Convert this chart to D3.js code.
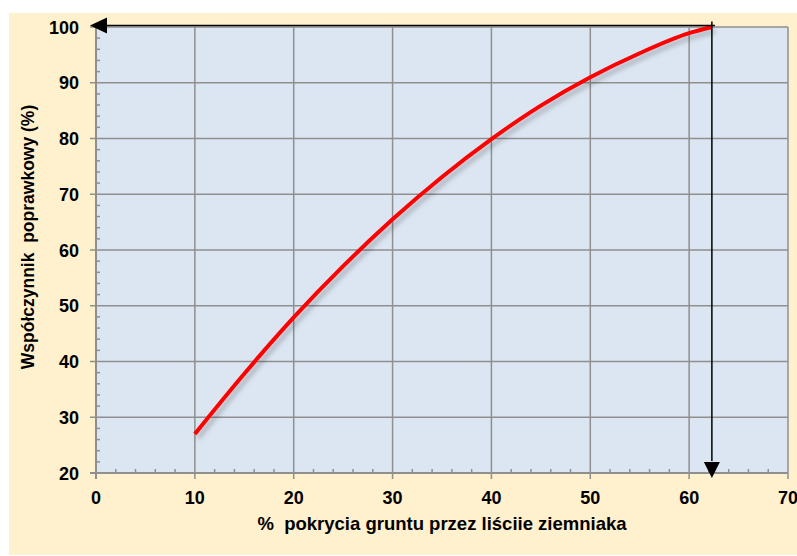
<!DOCTYPE html>
<html><head><meta charset="utf-8">
<script src="https://cdn.jsdelivr.net/npm/d3@7"></script>
<style>body{margin:0;background:#fff}svg{display:block}text{font-family:Arial,"Liberation Sans",sans-serif;font-weight:bold;fill:#000}</style>
</head><body>
<script>
const coverage = [10, 15, 20, 25, 30, 35, 40, 45, 50, 55, 60, 62.3];
const factor   = [27, 37.8, 47.9, 57.1, 65.5, 73.1, 79.9, 85.9, 91, 95.3, 98.9, 100];
const xTicks = [0, 10, 20, 30, 40, 50, 60, 70];
const yTicks = [20, 30, 40, 50, 60, 70, 80, 90, 100];
const readX = 62.3, readY = 100;
const xLabel = "%  pokrycia gruntu przez liściie ziemniaka";
const yLabel = "Współczynnik  poprawkowy (%)";

const W = 797, H = 556;
const svg = d3.select("body").append("svg").attr("width", W).attr("height", H);
const defs = svg.append("defs");
const f = defs.append("filter").attr("id","sh").attr("x","-10%").attr("y","-10%").attr("width","130%").attr("height","130%");
f.append("feDropShadow").attr("dx",3).attr("dy",4).attr("stdDeviation",2.5).attr("flood-color","#000").attr("flood-opacity",0.25);

svg.append("rect").attr("x",9).attr("y",13).attr("width",W-9).attr("height",542).attr("fill","#FFF0CE");

const x = d3.scaleLinear().domain([0,70]).range([96,788]);
const y = d3.scaleLinear().domain([20,100]).range([473,27]);
const grey = "#8f8f8f";

svg.append("rect").attr("x",x(0)).attr("y",y(100)).attr("width",x(70)-x(0)).attr("height",y(20)-y(100)).attr("fill","#DCE6F2");

// minor ticks
const xMinor = d3.range(0,70.01,2).filter(v=>v%10!==0);
const yMinor = d3.range(20,100.01,2).filter(v=>v%10!==0);
svg.append("g").selectAll("line").data(xMinor).join("line")
  .attr("x1",d=>x(d)).attr("x2",d=>x(d)).attr("y1",y(20)).attr("y2",y(20)-4)
  .attr("stroke",grey).attr("stroke-width",1.5);
svg.append("g").selectAll("line").data(yMinor).join("line")
  .attr("y1",d=>y(d)).attr("y2",d=>y(d)).attr("x1",x(0)).attr("x2",x(0)+4)
  .attr("stroke",grey).attr("stroke-width",1.5);

// grid
svg.append("g").selectAll("line").data(xTicks.slice(1)).join("line")
  .attr("x1",d=>x(d)).attr("x2",d=>x(d)).attr("y1",y(100)).attr("y2",y(20)+6)
  .attr("stroke",grey).attr("stroke-width",1.5);
svg.append("g").selectAll("line").data(yTicks.slice(1)).join("line")
  .attr("y1",d=>y(d)).attr("y2",d=>y(d)).attr("x1",x(0)-6).attr("x2",x(70))
  .attr("stroke",grey).attr("stroke-width",1.5);
// axes
svg.append("line").attr("x1",x(0)).attr("x2",x(0)).attr("y1",y(100)).attr("y2",y(20)+6).attr("stroke",grey).attr("stroke-width",2);
svg.append("line").attr("x1",x(0)-6).attr("x2",x(70)).attr("y1",y(20)).attr("y2",y(20)).attr("stroke",grey).attr("stroke-width",2);

// tick labels
svg.append("g").selectAll("text").data(xTicks).join("text")
  .attr("x",d=>x(d)).attr("y",y(20)+31).attr("text-anchor","middle").attr("font-size",18).text(d=>d);
svg.append("g").selectAll("text").data(yTicks).join("text")
  .attr("x",x(0)-17).attr("y",d=>y(d)+6.5).attr("text-anchor","end").attr("font-size",18).text(d=>d);

// curve
const line = d3.line().x((d,i)=>x(coverage[i])).y(d=>y(d)).curve(d3.curveMonotoneX);
svg.append("path").attr("d",line(factor)).attr("fill","none").attr("stroke","#FF0000")
  .attr("stroke-width",4).attr("filter","url(#sh)");

// reading arrows
const ax = x(readX), ay = y(readY)-1.5;
svg.append("line").attr("x1",ax+3).attr("x2",x(0)+10).attr("y1",ay).attr("y2",ay).attr("stroke","#000").attr("stroke-width",1.5);
svg.append("path").attr("d",`M${x(0)-6},${ay}L${x(0)+11},${ay-8}L${x(0)+11},${ay+8}Z`).attr("fill","#000");
svg.append("line").attr("x1",ax).attr("x2",ax).attr("y1",ay-4).attr("y2",y(20)-12).attr("stroke","#000").attr("stroke-width",1.5);
svg.append("path").attr("d",`M${ax},${y(20)+5}L${ax-8},${y(20)-11}L${ax+8},${y(20)-11}Z`).attr("fill","#000");

// axis titles
svg.append("text").attr("x",442).attr("y",530).attr("text-anchor","middle").attr("font-size",18.5).style("white-space","pre").text(xLabel);
svg.append("text").attr("transform","translate(34,237) rotate(-90)").attr("text-anchor","middle").attr("font-size",17.5).style("white-space","pre").text(yLabel);
</script>
</body></html>
